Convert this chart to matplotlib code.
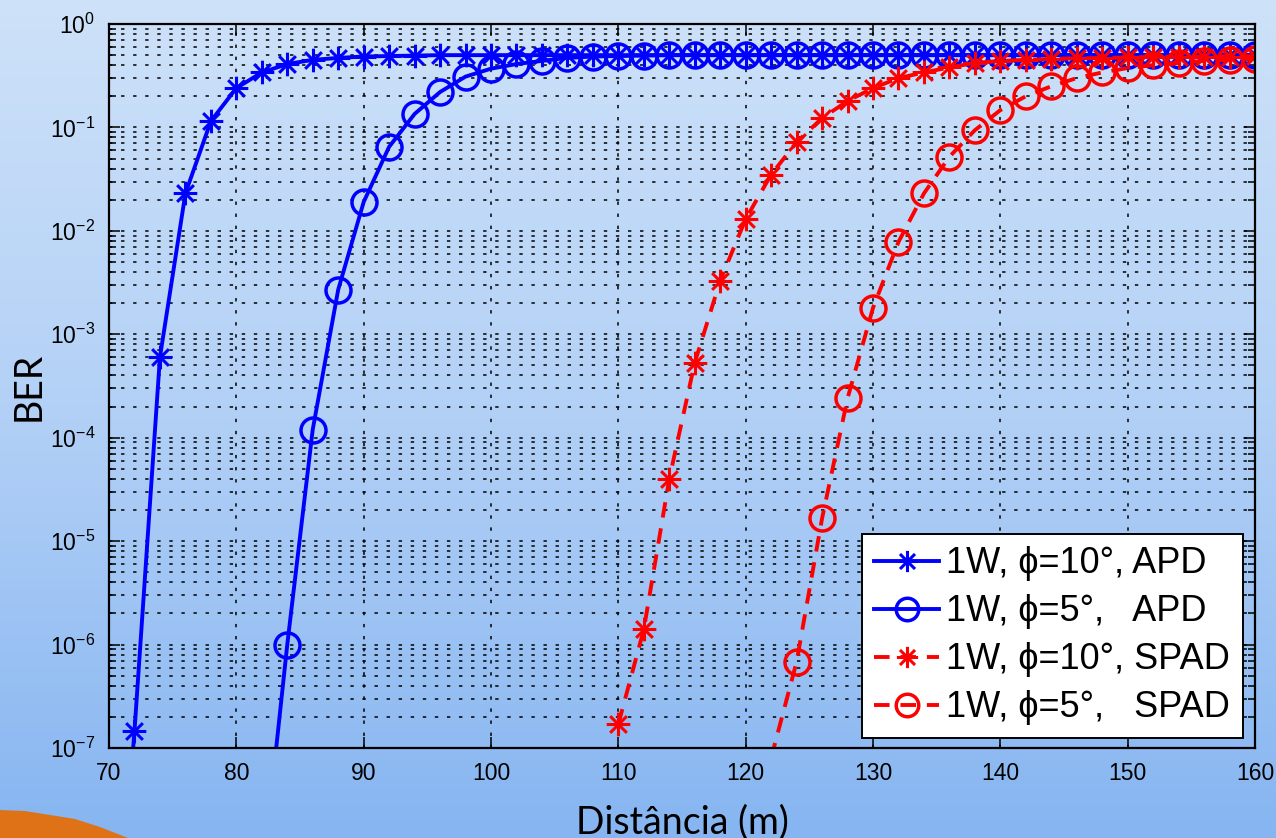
import matplotlib
matplotlib.use("Agg")
import matplotlib.pyplot as plt
from matplotlib.path import Path
from matplotlib.patches import Polygon
from matplotlib.ticker import LogLocator, NullFormatter
import numpy as np

# BER vs distance (markers every 2 m)
dist_apd10 = [70, 72, 74, 76, 78, 80, 82, 84, 86, 88, 90, 92, 94, 96, 98,
              100, 102, 104, 106, 108, 110, 112, 114, 116, 118, 120, 122, 124,
              126, 128, 130, 132, 134, 136, 138, 140, 142, 144, 146, 148, 150,
              152, 154, 156, 158, 160]
ber_apd10 = [1e-10, 1.45e-7, 6e-4, 2.3e-2, 0.115, 0.24, 0.34, 0.41, 0.45, 0.47,
             0.485, 0.49, 0.495, 0.5, 0.5, 0.5, 0.5, 0.5, 0.5, 0.5, 0.5, 0.5,
             0.5, 0.5, 0.5, 0.5, 0.5, 0.5, 0.5, 0.5, 0.5, 0.5, 0.5, 0.5, 0.5,
             0.5, 0.5, 0.5, 0.5, 0.5, 0.5, 0.5, 0.5, 0.5, 0.5, 0.5]

dist_apd5 = [82, 84, 86, 88, 90, 92, 94, 96, 98, 100, 102, 104, 106, 108, 110,
             112, 114, 116, 118, 120, 122, 124, 126, 128, 130, 132, 134, 136,
             138, 140, 142, 144, 146, 148, 150, 152, 154, 156, 158, 160]
ber_apd5 = [5e-9, 1.0e-6, 1.2e-4, 2.7e-3, 1.9e-2, 6.5e-2, 0.135, 0.22, 0.31,
            0.37, 0.41, 0.44, 0.47, 0.485, 0.49, 0.495, 0.5, 0.5, 0.5, 0.5,
            0.5, 0.5, 0.5, 0.5, 0.5, 0.5, 0.5, 0.5, 0.5, 0.5, 0.5, 0.5, 0.5,
            0.5, 0.5, 0.5, 0.5, 0.5, 0.5, 0.5]

dist_spad10 = [110, 112, 114, 116, 118, 120, 122, 124, 126, 128, 130, 132, 134,
               136, 138, 140, 142, 144, 146, 148, 150, 152, 154, 156, 158, 160]
ber_spad10 = [1.7e-7, 1.4e-6, 4e-5, 5.3e-4, 3.3e-3, 1.3e-2, 3.5e-2, 7.2e-2,
              0.123, 0.18, 0.24, 0.30, 0.34, 0.38, 0.42, 0.44, 0.45, 0.46,
              0.465, 0.47, 0.475, 0.48, 0.48, 0.485, 0.485, 0.49]

dist_spad5 = [122, 124, 126, 128, 130, 132, 134, 136, 138, 140, 142, 144, 146,
              148, 150, 152, 154, 156, 158, 160]
ber_spad5 = [8e-8, 6.8e-7, 1.66e-5, 2.4e-4, 1.8e-3, 7.8e-3, 2.3e-2, 5.2e-2,
             9.4e-2, 0.147, 0.2, 0.25, 0.30, 0.34, 0.375, 0.40, 0.42, 0.44,
             0.45, 0.46]

labels = ["1W, ϕ=10°, APD", "1W, ϕ=5°,   APD",
          "1W, ϕ=10°, SPAD", "1W, ϕ=5°,   SPAD"]
x_ticks = [70, 80, 90, 100, 110, 120, 130, 140, 150, 160]

plt.rcParams['font.family'] = ['Liberation Sans', 'DejaVu Sans']
plt.rcParams['mathtext.fontset'] = 'custom'
plt.rcParams['mathtext.rm'] = 'Liberation Sans'
plt.rcParams['mathtext.it'] = 'Liberation Sans:italic'
plt.rcParams['mathtext.bf'] = 'Liberation Sans:bold'

# matlab style asterisk marker
d = 0.7071
star = Path([(-1, 0), (1, 0), (0, -1), (0, 1), (-d, -d), (d, d), (-d, d), (d, -d)],
            [Path.MOVETO, Path.LINETO] * 4)

fig = plt.figure(figsize=(12.76, 8.38), dpi=100)

# slide background
bg = fig.add_axes([0, 0, 1, 1], zorder=-10)
top = np.array([206, 226, 249]) / 255
mid = np.array([178, 208, 246]) / 255
bot = np.array([134, 181, 241]) / 255
t = np.linspace(0, 1, 400)[:, None]
grad = np.where(t < 0.5, top + (mid - top) * (t / 0.5), mid + (bot - mid) * ((t - 0.5) / 0.5))
bg.imshow(grad[:, None, :], aspect='auto', extent=[0, 1276, 838, 0])
bg.add_patch(Polygon([(0, 810), (25, 811), (50, 815), (75, 819), (100, 827),
                      (128, 838), (0, 838)], closed=True, color='#df7117', lw=0))
bg.set_xlim(0, 1276)
bg.set_ylim(838, 0)
bg.axis('off')

ax = fig.add_axes([109 / 1276, 1 - 748 / 838, 1146 / 1276, 724 / 838])
ax.patch.set_alpha(0)

ax.plot(dist_apd10, ber_apd10, '-', color='#0000ff', lw=2.8, marker=star,
        ms=17, mew=2.2, mfc='none', markevery=slice(1, None), label=labels[0])
ax.plot(dist_apd5, ber_apd5, '-', color='#0000ff', lw=2.8, marker='o',
        ms=18, mew=2.5, mfc='none', markevery=slice(1, None), label=labels[1])
ax.plot(dist_spad10, ber_spad10, color='#ff0000', lw=2.8, ls=(0, (4, 2.8)),
        marker=star, ms=17, mew=2.2, mfc='none', label=labels[2])
ax.plot(dist_spad5, ber_spad5, color='#ff0000', lw=2.8, ls=(0, (4, 2.8)),
        marker='o', ms=18, mew=2.5, mfc='none', markevery=slice(1, None),
        label=labels[3])

ax.set_yscale('log')
ax.set_xlim(70, 160)
ax.set_ylim(1e-7, 1)
ax.set_xticks(x_ticks)
ax.yaxis.set_major_locator(LogLocator(base=10, numticks=20))
ax.yaxis.set_minor_locator(LogLocator(base=10, subs=np.arange(2, 10), numticks=20))
ax.yaxis.set_minor_formatter(NullFormatter())
ax.tick_params(which='both', direction='in', top=True, right=True,
               labelsize=16.5, width=1.1, colors='black')
ax.tick_params(which='major', length=8, pad=10)
ax.tick_params(which='minor', length=5)
ax.tick_params(axis='x', which='minor', bottom=False, top=False)
for s in ax.spines.values():
    s.set_linewidth(1.6)

ax.grid(True, which='major', axis='x', color='black', lw=1.1, ls=(0, (2.2, 5.7)))
ax.grid(True, which='both', axis='y', color='black', lw=1.1, ls=(0, (2.2, 5.7)))
ax.set_axisbelow(True)

ax.set_xlabel("Distância (m)", family='Lato', fontsize=27, labelpad=14)
ax.set_ylabel("BER", family='Lato', fontsize=27, labelpad=2)

leg = ax.legend(loc='lower right', bbox_to_anchor=(0.9895, 0.0138),
                borderaxespad=0, fontsize=26, fancybox=False, framealpha=1,
                edgecolor='black', handlelength=1.8, handletextpad=0.2,
                labelspacing=0.36, borderpad=0.35, markerscale=0.9)
leg.get_frame().set_linewidth(1.4)

fig.savefig("out.png", dpi=100)
